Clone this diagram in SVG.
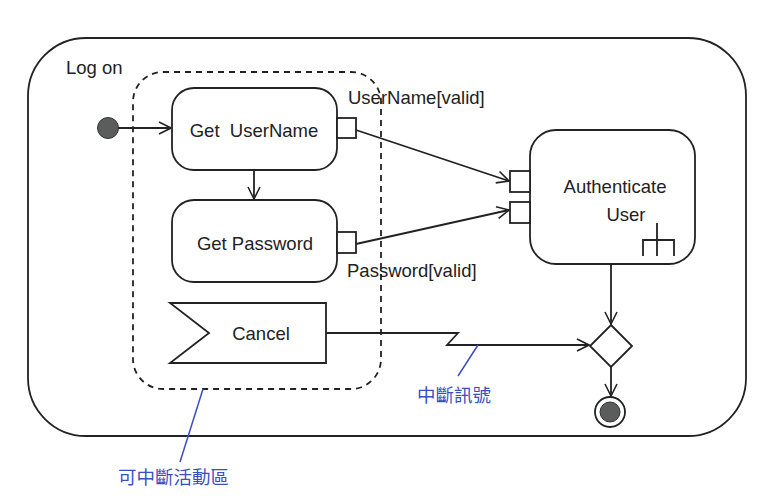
<svg xmlns="http://www.w3.org/2000/svg" width="779" height="503" viewBox="0 0 779 503">
<style>
.ln{fill:none;stroke:#222;stroke-width:1.8}
.box{fill:#fff;stroke:#222;stroke-width:1.8}
.t{font-family:"Liberation Sans",Arial,sans-serif;font-size:18.5px;fill:#222}
.b{font-family:"Noto Sans CJK TC","Noto Sans CJK SC",sans-serif;font-size:18.5px;fill:#3a4fc0}
.bl{stroke:#3a4fc0;stroke-width:1.5;fill:none}
</style>
<defs>
<marker id="open" viewBox="0 0 14 14" refX="13" refY="7" markerWidth="14" markerHeight="14" markerUnits="userSpaceOnUse" orient="auto">
<path d="M1,1 L13,7 L1,13" fill="none" stroke="#222" stroke-width="1.6"/>
</marker>
</defs>
<rect fill="#fff" width="779" height="503"/>
<g id="frame">
<rect class="ln" x="28" y="38" width="718" height="398" rx="58" ry="58"/>
<text class="t" x="66" y="74">Log on</text>
</g>
<g id="region">
<rect x="133" y="72" width="248" height="317" rx="30" ry="30" fill="none" stroke="#222" stroke-width="1.8" stroke-dasharray="6,5"/>
</g>
<g id="initial"><circle cx="108" cy="128" r="10.5" fill="#5a5d5c" stroke="#333" stroke-width="1"/></g>
<g id="getUserName">
<rect class="box" x="172" y="88" width="165" height="82" rx="22" ry="22"/>
<text class="t" x="254" y="137" text-anchor="middle">Get&#160; UserName</text>
<rect class="box" x="337" y="118" width="19" height="20"/>
</g>
<g id="getPassword">
<rect class="box" x="172" y="200" width="165" height="82" rx="22" ry="22"/>
<text class="t" x="255" y="250" text-anchor="middle">Get Password</text>
<rect class="box" x="337" y="232" width="19" height="21"/>
</g>
<g id="cancel">
<path class="box" d="M170,303 L326,303 L326,363 L170,363 L209,333 Z"/>
<text class="t" x="261" y="340" text-anchor="middle">Cancel</text>
</g>
<g id="authenticate">
<rect class="box" x="530" y="130" width="165" height="134" rx="26" ry="26"/>
<text class="t" x="615" y="193" text-anchor="middle">Authenticate</text>
<text class="t" x="626" y="221" text-anchor="middle">User</text>
<rect class="box" x="510" y="171" width="20" height="21"/>
<rect class="box" x="510" y="202" width="20" height="21"/>
<path class="ln" d="M657,223 V256 M643,256 V240 H674 V256"/>
</g>
<g id="decision"><path class="box" d="M611,325 L632,346 L611,367 L590,346 Z"/></g>
<g id="final">
<circle cx="610" cy="412" r="15" fill="#fff" stroke="#222" stroke-width="1.8"/>
<circle cx="610" cy="412" r="10" fill="#5a5d5c" stroke="#333" stroke-width="1"/>
</g>
<g id="connectors">
<line class="ln" x1="118" y1="128" x2="171" y2="128" marker-end="url(#open)"/>
<line class="ln" x1="254" y1="170" x2="254" y2="199" marker-end="url(#open)"/>
<line class="ln" x1="356" y1="130" x2="509" y2="181" marker-end="url(#open)"/>
<line class="ln" x1="356" y1="244" x2="509" y2="210" marker-end="url(#open)"/>
<line class="ln" x1="611" y1="264" x2="611" y2="324" marker-end="url(#open)"/>
<line class="ln" x1="611" y1="367" x2="611" y2="396" marker-end="url(#open)"/>
<path class="ln" d="M326,333 H458 L447,345 H589" marker-end="url(#open)"/>
<text class="t" x="348" y="104">UserName[valid]</text>
<text class="t" x="347" y="277">Password[valid]</text>
</g>
<g id="notes">
<line class="bl" x1="478" y1="345" x2="458" y2="376"/>
<text class="b" x="417" y="402">中斷訊號</text>
<line class="bl" x1="203" y1="389" x2="180" y2="462"/>
<text class="b" x="118" y="484">可中斷活動區</text>
</g>
</svg>
